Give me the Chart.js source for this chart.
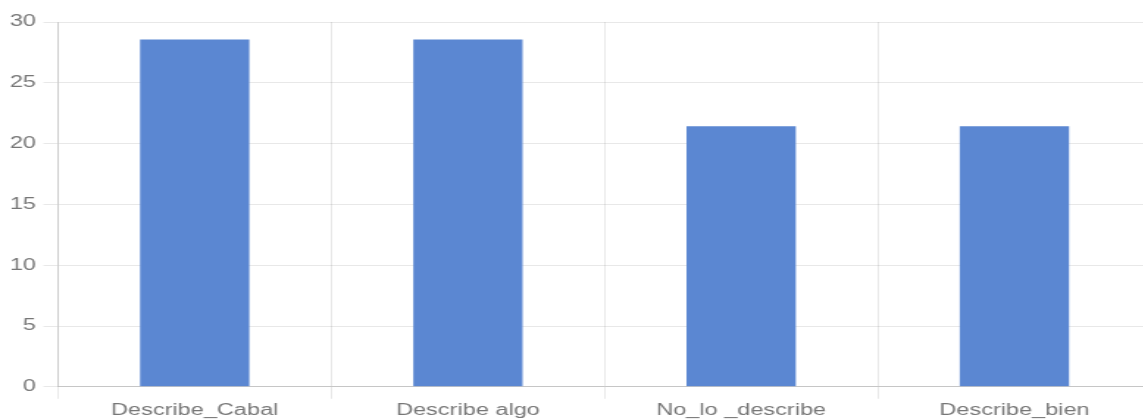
<!DOCTYPE html>
<html>
<head>
<meta charset="utf-8">
<script src="https://cdn.jsdelivr.net/npm/chart.js@4/dist/chart.umd.min.js"></script>
<style>
    html, body { margin: 0; padding: 0; background: #fff; overflow: hidden; width: 1143px; height: 420px; }
    /* the source picture is stretched sideways and cut at the edges, so the chart is too */
    #wrap { position: absolute; left: 0; top: 0; width: 783px; height: 422px; transform: scaleX(1.47); transform-origin: 0 0; }
</style>
</head>
<body>
<div id="wrap"><canvas id="barChart"></canvas></div>
<script>
// ========== DATA ==========
const categories = ['Describe_Cabal', 'Describe algo', 'No_lo _describe', 'Describe_bien'];
const percentages = [28.57, 28.57, 21.43, 21.43];
const yTicks = [0, 5, 10, 15, 20, 25, 30];

// ========== CHART ==========
const ctx = document.getElementById('barChart').getContext('2d');
const fontFamily = 'Liberation Sans, Arial, sans-serif';
const gridColor = 'rgba(0, 0, 0, 0.09)';

new Chart(ctx, {
    type: 'bar',
    data: {
        labels: categories,
        datasets: [{
            data: percentages,
            backgroundColor: 'rgb(91, 135, 210)',
            borderWidth: 0,
            categoryPercentage: 0.8,
            barPercentage: 0.5
        }]
    },
    options: {
        responsive: true,
        maintainAspectRatio: false,
        animation: false,
        layout: { padding: { top: 22, right: 0, bottom: 0, left: 0 } },
        plugins: {
            legend: { display: false },
            tooltip: { enabled: false }
        },
        scales: {
            x: {
                grid: { color: gridColor, tickLength: 12 },
                border: { color: 'rgba(0, 0, 0, 0.15)' },
                ticks: { color: '#777', font: { family: fontFamily, size: 16, lineHeight: 0.95 }, padding: 4, maxRotation: 0 }
            },
            y: {
                min: yTicks[0],
                max: yTicks[yTicks.length - 1],
                afterBuildTicks: axis => { axis.ticks = yTicks.map(v => ({ value: v })); },
                afterFit: axis => { axis.width = 39.5; },
                grid: { color: gridColor, tickLength: 10 },
                border: { color: 'rgba(0, 0, 0, 0.12)' },
                ticks: { color: '#777', font: { family: fontFamily, size: 16 }, padding: 5 }
            }
        }
    }
});
</script>
</body>
</html>
